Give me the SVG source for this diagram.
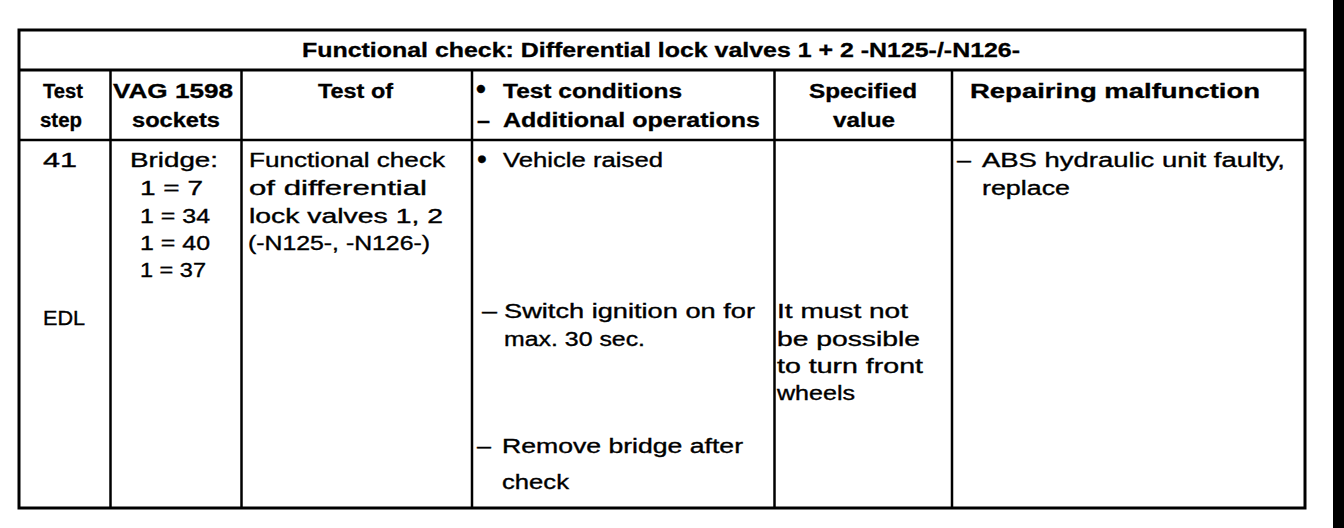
<svg xmlns="http://www.w3.org/2000/svg" width="1344" height="528" viewBox="0 0 1344 528">
<style>
.b{font-family:"Liberation Sans",Arial,sans-serif;font-weight:bold;font-size:20px;fill:#000;stroke:#000;stroke-width:0.3}
.t{font-family:"Liberation Sans",Arial,sans-serif;font-size:19.5px;fill:#000;stroke:#000;stroke-width:0.35}
.bul{font-size:28px}
.ln{stroke:#000;stroke-width:2.5;fill:none}
.thk{stroke:#000;stroke-width:3;fill:none}
</style>
<rect x="0" y="0" width="1344" height="528" fill="#fff"/>
<rect x="1333" y="0" width="11" height="528" fill="#000"/>
<g id="grid">
<rect class="thk" x="19" y="30" width="1286" height="478"/>
<line class="thk" x1="19" y1="70" x2="1305" y2="70"/>
<line class="ln" x1="19" y1="140" x2="1305" y2="140"/>
<line class="ln" x1="110.5" y1="70" x2="110.5" y2="508"/>
<line class="ln" x1="241.5" y1="70" x2="241.5" y2="508"/>
<line class="ln" x1="472" y1="70" x2="472" y2="508"/>
<line class="ln" x1="774.5" y1="70" x2="774.5" y2="508"/>
<line class="ln" x1="952" y1="70" x2="952" y2="508"/>
</g>
<g id="title">
<text class="b" x="302" y="57" font-size="21" textLength="718" lengthAdjust="spacingAndGlyphs">Functional check: Differential lock valves 1 + 2 -N125-/-N126-</text>
</g>
<g id="header">
<text class="b" x="43" y="98" textLength="40" lengthAdjust="spacingAndGlyphs">Test</text>
<text class="b" x="40" y="127" textLength="42" lengthAdjust="spacingAndGlyphs">step</text>
<text class="b" x="113" y="98" textLength="120" lengthAdjust="spacingAndGlyphs">VAG 1598</text>
<text class="b" x="132" y="127" textLength="88" lengthAdjust="spacingAndGlyphs">sockets</text>
<text class="b" x="318" y="98" textLength="75" lengthAdjust="spacingAndGlyphs">Test of</text>
<text class="b bul" x="476" y="98">•</text>
<text class="b" x="503" y="98" textLength="179" lengthAdjust="spacingAndGlyphs">Test conditions</text>
<text class="b" x="477" y="127" textLength="13" lengthAdjust="spacingAndGlyphs">–</text>
<text class="b" x="503" y="127" textLength="257" lengthAdjust="spacingAndGlyphs">Additional operations</text>
<text class="b" x="809" y="98" textLength="108" lengthAdjust="spacingAndGlyphs">Specified</text>
<text class="b" x="833" y="127" textLength="62" lengthAdjust="spacingAndGlyphs">value</text>
<text class="b" x="970" y="98" textLength="290" lengthAdjust="spacingAndGlyphs">Repairing malfunction</text>
</g>
<g id="step">
<text class="t" x="43" y="167" textLength="34" lengthAdjust="spacingAndGlyphs">41</text>
<text class="t" x="43" y="325" textLength="42" lengthAdjust="spacingAndGlyphs">EDL</text>
</g>
<g id="sockets">
<text class="t" x="130" y="167" textLength="88" lengthAdjust="spacingAndGlyphs">Bridge:</text>
<text class="t" x="140" y="195" textLength="63" lengthAdjust="spacingAndGlyphs">1 = 7</text>
<text class="t" x="140" y="223" textLength="70" lengthAdjust="spacingAndGlyphs">1 = 34</text>
<text class="t" x="140" y="250" textLength="70" lengthAdjust="spacingAndGlyphs">1 = 40</text>
<text class="t" x="140" y="277" textLength="66" lengthAdjust="spacingAndGlyphs">1 = 37</text>
</g>
<g id="testof">
<text class="t" x="249" y="167" textLength="196" lengthAdjust="spacingAndGlyphs">Functional check</text>
<text class="t" x="249" y="195" textLength="178" lengthAdjust="spacingAndGlyphs">of differential</text>
<text class="t" x="249" y="223" textLength="194" lengthAdjust="spacingAndGlyphs">lock valves 1, 2</text>
<text class="t" x="248" y="250" textLength="182" lengthAdjust="spacingAndGlyphs">(-N125-, -N126-)</text>
</g>
<g id="conditions">
<text class="t bul" x="477" y="168">•</text>
<text class="t" x="503" y="167" textLength="160" lengthAdjust="spacingAndGlyphs">Vehicle raised</text>
<text class="t" x="482" y="318" textLength="15" lengthAdjust="spacingAndGlyphs">–</text>
<text class="t" x="504" y="318" textLength="251" lengthAdjust="spacingAndGlyphs">Switch ignition on for</text>
<text class="t" x="504" y="346" textLength="141" lengthAdjust="spacingAndGlyphs">max. 30 sec.</text>
<text class="t" x="477" y="453" textLength="14" lengthAdjust="spacingAndGlyphs">–</text>
<text class="t" x="502" y="453" textLength="241" lengthAdjust="spacingAndGlyphs">Remove bridge after</text>
<text class="t" x="502" y="489" textLength="67" lengthAdjust="spacingAndGlyphs">check</text>
</g>
<g id="specified">
<text class="t" x="777" y="318" textLength="131" lengthAdjust="spacingAndGlyphs">It must not</text>
<text class="t" x="777" y="346" textLength="143" lengthAdjust="spacingAndGlyphs">be possible</text>
<text class="t" x="777" y="373" textLength="146" lengthAdjust="spacingAndGlyphs">to turn front</text>
<text class="t" x="777" y="400" textLength="78" lengthAdjust="spacingAndGlyphs">wheels</text>
</g>
<g id="repair">
<text class="t" x="957" y="167" textLength="14" lengthAdjust="spacingAndGlyphs">–</text>
<text class="t" x="982" y="167" textLength="303" lengthAdjust="spacingAndGlyphs">ABS hydraulic unit faulty,</text>
<text class="t" x="982" y="195" textLength="88" lengthAdjust="spacingAndGlyphs">replace</text>
</g>
</svg>
